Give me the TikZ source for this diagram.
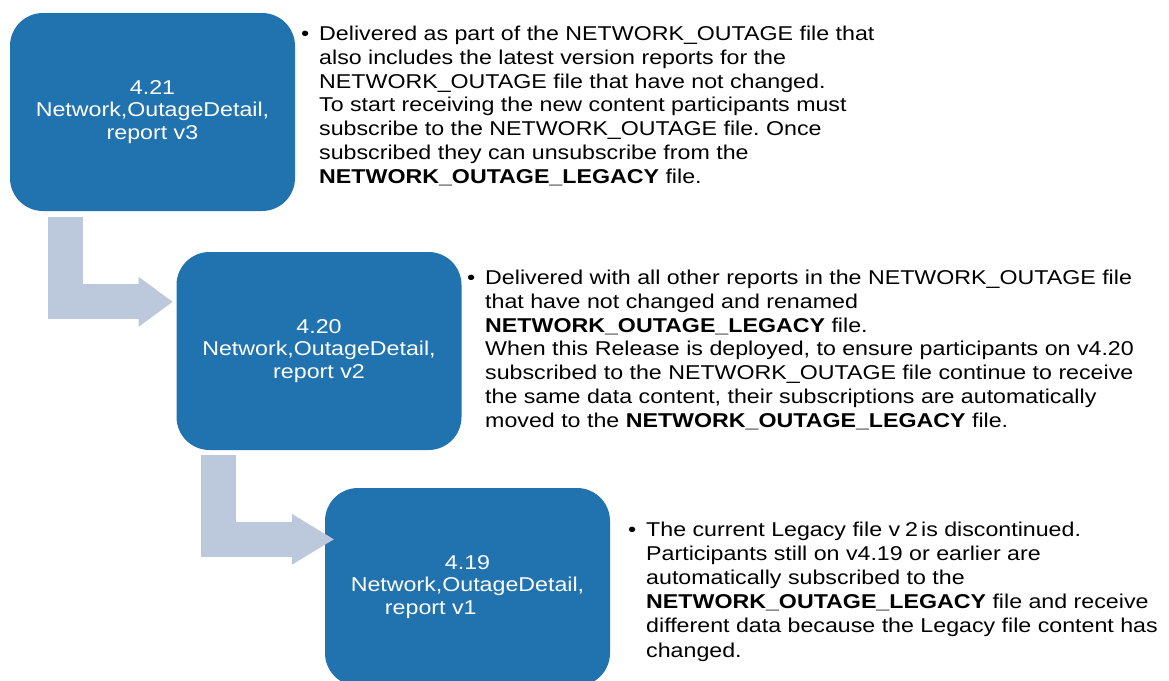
\documentclass[tikz,border=0pt]{standalone}
\usepackage{fontspec}
\setmainfont[FakeStretch=1.16]{Liberation Sans}
\usepackage{tikz}
\usetikzlibrary{arrows.meta}
\frenchspacing

\definecolor{boxblue}{RGB}{33,115,176}
\definecolor{arrowgray}{RGB}{188,201,221}

\newcommand{\bul}{\llap{\textbullet\hspace{10pt}}}

\begin{document}
\begin{tikzpicture}[x=1pt, y=-1pt,
	verbox/.style={rectangle, rounded corners=33pt, fill=boxblue, text=white, minimum width=285pt, minimum height=198pt, inner sep=0pt, align=center, font=\fontsize{20}{22.8}\selectfont},
	note/.style={anchor=base west, inner sep=0pt, align=left, font=\fontsize{20}{23.7}\selectfont},
	bentarrow/.style={draw=arrowgray, line width=35pt, line join=miter}]
	\useasboundingbox (0,0) rectangle (1169,680);
	\clip (0,0) rectangle (1169,680);
	% Version boxes
	\node[verbox] (v421) at (152.5,112) {4.21\\Network,OutageDetail,\\report v3};
	\node[verbox] (v420) at (319,351) {4.20\\Network,OutageDetail,\\report v2};
	\node[verbox] (v419) at (467.5,587) {4.19\\Network,OutageDetail,\\report v1\hspace*{73.5pt}};
	% Arrows
	\coordinate (a1) at ([xshift=55.5pt,yshift=-6pt]v421.south west);
	\coordinate (t1) at ([xshift=-3.7pt,yshift=-50pt]v420.north west);
	\coordinate (a2) at ([xshift=42.5pt,yshift=-5pt]v420.south west);
	\coordinate (t2) at ([xshift=9pt,yshift=-51.5pt]v419.north west);
	\draw[bentarrow, -{Triangle[length=34pt,width=50pt,line width=0pt]}] (a1) |- (t1);
	\draw[bentarrow, -{Triangle[length=42pt,width=51pt,line width=0pt]}] (a2) |- (t2);
	% Notes (placed at the baseline of their last line)
	\node[note] (n421) at (319,183) {\bul Delivered as part of the NETWORK\_OUTAGE file that\\
		also includes the latest version reports for the\\
		NETWORK\_OUTAGE file that have not changed.\\
		To start receiving the new content participants must\\
		subscribe to the NETWORK\_OUTAGE file. Once\\
		subscribed they can unsubscribe from the\\
		\textbf{NETWORK\_OUTAGE\_LEGACY} file.};
	\node[note] (n420) at (485,427) {\bul Delivered with all other reports in the NETWORK\_OUTAGE file\\
		that have not changed and renamed\\
		\textbf{NETWORK\_OUTAGE\_LEGACY} file.\\
		When this Release is deployed, to ensure participants on v4.20\\
		subscribed to the NETWORK\_OUTAGE file continue to receive\\
		the same data content, their subscriptions are automatically\\
		moved to the \textbf{NETWORK\_OUTAGE\_LEGACY} file.};
	\node[note, font=\fontsize{20}{24.2}\selectfont] (n419) at (646,657) {\bul The current Legacy file v\kern5pt 2\kern3pt is discontinued.\\
		Participants still on v4.19 or earlier are\\
		automatically subscribed to the\\
		\textbf{NETWORK\_OUTAGE\_LEGACY} file and receive\\
		different data because the Legacy file content has\\
		changed.};
\end{tikzpicture}
\end{document}
